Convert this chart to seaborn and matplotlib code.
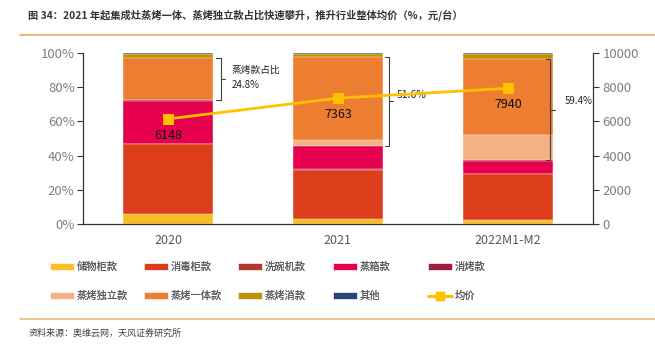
import numpy as np
import pandas as pd
import matplotlib
matplotlib.use("Agg")
import matplotlib.pyplot as plt
import seaborn as sns
from matplotlib.patches import Patch
from matplotlib.lines import Line2D

# ---------------- data ----------------
years = ["2020", "2021", "2022M1-M2"]
series_names = ["储物柜款", "消毒柜款", "洗碗机款", "蒸箱款", "消烤款",
                "蒸烤独立款", "蒸烤一体款", "蒸烤消款", "其他"]
storage = [5.7, 2.7, 2.3]
disinfect = [41.0, 28.9, 26.7]
dishwasher = [0.2, 0.3, 0.4]
steambox = [25.3, 13.7, 7.4]
disinfect_bake = [0.1, 0.3, 0.4]
steambake_indep = [0.5, 3.2, 14.6]
steambake_integ = [24.3, 48.4, 44.8]
steambake_dis = [2.5, 2.2, 2.9]
other = [0.4, 0.3, 0.5]
avg_price = [6148, 7363, 7940]
steambake_share_labels = ["蒸烤款占比\n24.8%", "51.6%", "59.4%"]

colors = ["#FBBC26", "#DC3D1B", "#B4382C", "#E6004E", "#A11C40",
          "#F4B183", "#ED7D31", "#BF9000", "#264478"]
line_color = "#FFC000"

series = [storage, disinfect, dishwasher, steambox, disinfect_bake,
          steambake_indep, steambake_integ, steambake_dis, other]

# ---------------- figure ----------------
sns.set_theme(style="white")
plt.rcParams['font.family'] = ['Noto Sans CJK SC', 'DejaVu Sans']

fig = plt.figure(figsize=(6.55, 3.47), dpi=100)
ax = fig.add_axes([0.1267, 0.3545, 0.7786, 0.4925])

cum = np.cumsum(np.array(series), axis=0)
df_rows = []
for i, name in enumerate(series_names):
    for j, y in enumerate(years):
        df_rows.append(dict(year=y, series=name, cum=cum[i, j]))
df = pd.DataFrame(df_rows)

# draw cumulative bars from top layer down
for i in range(len(series_names) - 1, -1, -1):
    sub = df[df.series == series_names[i]]
    sns.barplot(data=sub, x="year", y="cum", color=colors[i], ax=ax,
                width=0.53, edgecolor="white", linewidth=0.3,
                saturation=1, order=years)

ax.set_xlim(-0.5, 2.5)
ax.set_ylim(0, 100)
ax.set_yticks(np.arange(0, 101, 20))
ax.set_yticklabels([f"{v}%" for v in range(0, 101, 20)])
ax.set_xlabel("")
ax.set_ylabel("")
ax.set_xticks([0.5, 1.5], minor=False)
ax.set_xticklabels([])
ax.set_xticks([0, 1, 2], minor=True)
ax.set_xticklabels(years, minor=True)
ax.tick_params(axis="x", which="major", direction="out", length=4, color="#333333", width=0.8)
ax.tick_params(axis="x", which="minor", length=0, labelsize=9, labelcolor="#595959", pad=7)
ax.tick_params(axis="y", direction="out", length=4, color="#333333", width=0.8,
               labelsize=9.5, labelcolor="#7F7F7F", pad=2)
for s in ["top", "right"]:
    ax.spines[s].set_visible(False)
ax.spines["left"].set_color("#333333")
ax.spines["bottom"].set_color("#333333")
ax.spines["left"].set_linewidth(0.9)
ax.spines["bottom"].set_linewidth(0.9)

# secondary axis with avg price
ax2 = ax.twinx()
sns.lineplot(x=[0, 1, 2], y=avg_price, ax=ax2, color=line_color, marker="s",
             markersize=7, markeredgecolor=line_color, linewidth=2)
ax2.set_ylim(0, 10000)
ax2.set_yticks(np.arange(0, 10001, 2000))
ax2.tick_params(axis="y", direction="out", length=4, color="#333333", width=0.8,
                labelsize=9.5, labelcolor="#7F7F7F", pad=3)
for s in ["top", "left", "bottom"]:
    ax2.spines[s].set_visible(False)
ax2.spines["right"].set_color("#333333")
ax2.spines["right"].set_linewidth(0.9)
ax2.set_xlim(-0.5, 2.5)

for j, v in enumerate(avg_price):
    ax2.text(j, v - 950, f"{v}", ha="center", va="center", fontsize=9, color="#111111")

# brackets for steam-bake share
lo = cum[4]
hi = cum[6]
br_x = [0.31, 0.30, 0.25]
for j in range(3):
    xv = j + br_x[j]
    x_end = xv - 0.025
    ax.plot([x_end, xv, xv, x_end], [hi[j], hi[j], lo[j], lo[j]],
            color="#404040", lw=0.8, clip_on=False)
    mid = (hi[j] + lo[j]) / 2
    ax.plot([xv, xv + 0.025], [mid, mid], color="#404040", lw=0.8, clip_on=False)

ax.text(0 + 0.376, (hi[0] + lo[0]) / 2 + 1, steambake_share_labels[0], fontsize=7,
        ha="left", va="center", color="#222222", linespacing=1.7)
ax.text(1 + 0.345, (hi[1] + lo[1]) / 2 + 4, steambake_share_labels[1], fontsize=7.5,
        ha="left", va="center", color="#222222")
ax.text(2 + 0.335, (hi[2] + lo[2]) / 2 + 5, steambake_share_labels[2], fontsize=7,
        ha="left", va="center", color="#222222")

# legend: place each entry at fixed column positions
handles = [Patch(facecolor=c, edgecolor="white", linewidth=0.5) for c in colors]
handles.append(Line2D([0], [0], color=line_color, lw=2, marker="s", markersize=6))
labels = series_names + ["均价"]
col_x = [50, 144, 238, 333, 428]
row_y = [267, 296]
for k in range(10):
    r, c = divmod(k, 5)
    leg = fig.legend([handles[k]], [labels[k]], loc="center left",
                     bbox_to_anchor=(col_x[c] / 655, 1 - row_y[r] / 347),
                     frameon=False, fontsize=7.4, labelcolor="#595959",
                     handlelength=2.35, handleheight=0.7, handletextpad=0.25,
                     borderpad=0, borderaxespad=0)
    fig.add_artist(leg)

# title and footer
fig.text(0.043, 0.955, "图 34：2021 年起集成灶蒸烤一体、蒸烤独立款占比快速攀升，推升行业整体均价（%，元/台）",
         fontsize=7.4, fontweight="bold", color="#333333", ha="left", va="center")
fig.add_artist(Line2D([0.03, 1.0], [0.9, 0.9], color="#F4A460", lw=1.2))
fig.add_artist(Line2D([0.03, 1.0], [0.08, 0.08], color="#F8B67C", lw=1.2))
fig.text(0.043, 0.04, "资料来源：奥维云网，天风证券研究所", fontsize=6.5, color="#404040",
         ha="left", va="center")

fig.savefig("out.png", dpi=100)
